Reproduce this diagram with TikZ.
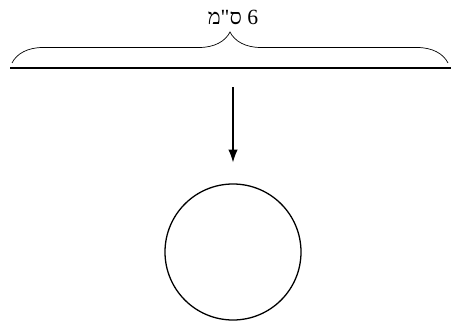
\documentclass[tikz,border=0pt]{standalone}
\usepackage{fontspec}
\newfontfamily\hebfont[Script=Hebrew]{Liberation Serif}
\TeXXeTstate=1
\usetikzlibrary{
    arrows.meta,
    positioning,
    decorations.pathreplacing
}
\tikzset{
  ruler/.style = {line width=1.6pt},
  brc/.style   = {decorate, decoration={brace, amplitude=0.93cm}, line width=0.6pt},
  arr/.style   = {-{Latex[length=0.38cm, width=0.28cm]}, line width=0.9pt},
  ball/.style  = {draw, circle, line width=1.1pt, minimum size=4.08cm, inner sep=0pt},
  lbl/.style   = {font=\hebfont\fontsize{18.5}{22}\selectfont, inner sep=0pt}
}

\begin{document}
\begin{tikzpicture}[x=0.03cm, y=0.03cm]
\useasboundingbox (0,0) rectangle (451,329);

% ruler and its brace
\coordinate (rl) at (10,261); \coordinate (rr) at (451,261);
\draw[ruler] (rl) -- (rr);
\coordinate (bl) at (12,266); \coordinate (br) at (448,266);
\draw[brc] (bl) -- (br);
\node[lbl] (len) at (233,312) {\beginR 6 ס"מ\endR};

% arrow down to the circle
\node[ball] (circ) at (233,77) {};
\coordinate (src) at (233,242);
\draw[arr, shorten >=0.63cm] (src) -- (circ.north);
\end{tikzpicture}
\end{document}
